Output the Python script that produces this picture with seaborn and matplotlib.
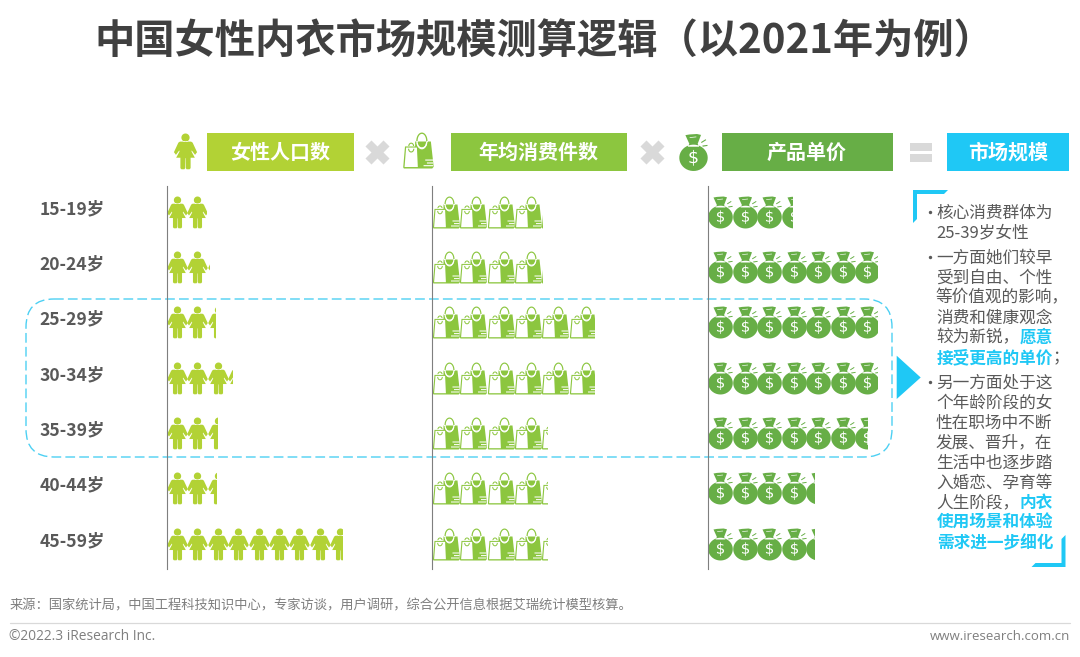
import numpy as np
import pandas as pd
import seaborn as sns
import matplotlib.pyplot as plt
from matplotlib.path import Path
from matplotlib.patches import Rectangle, Polygon, FancyBboxPatch
from matplotlib.textpath import TextPath
from matplotlib.font_manager import FontProperties

# data, in "number of icons"
ages = ['15-19岁', '20-24岁', '25-29岁', '30-34岁', '35-39岁', '40-44岁', '45-59岁']
women = [1.95, 2.07, 2.35, 3.2, 2.45, 2.4, 8.58]
pieces = [4.02, 4.02, 5.93, 5.93, 4.2, 4.2, 4.2]
price = [3.43, 6.88, 6.88, 6.88, 6.47, 4.32, 4.32]
headers = ['女性人口数', '年均消费件数', '产品单价', '市场规模']

C_WOMEN = '#B2D235'
C_BAG = '#8CC63F'
C_MONEY = '#67AE46'
C_BLUE = '#1FC8F5'
C_TEXT = '#595959'
C_X = '#D9D9D9'

W, H = 1080, 657
sns.set_theme(style='white')
plt.rcParams['font.family'] = ['Noto Sans CJK SC', 'DejaVu Sans']


# every icon is drawn in a -16..16 box, the extra point keeps all layers at one scale
def finish(*parts):
    box = Path([(16, 16), (16, 16)], [Path.MOVETO, Path.LINETO])
    return Path.make_compound_path(*parts, box)


def poly(pts):
    pts = list(pts) + [pts[0]]
    return Path(pts, [Path.MOVETO] + [Path.LINETO] * (len(pts) - 2) + [Path.CLOSEPOLY])


def blob(cx, cy, rx, ry):
    t = np.linspace(0, 2 * np.pi, 40)[:-1]
    return poly(list(zip(cx + rx * np.cos(t), cy + ry * np.sin(t))))


def ring(cx, cy, rx, ry, w, t0=0, t1=360):
    t = np.radians(np.linspace(t0, t1, 30))
    outer = list(zip(cx + rx * np.cos(t), cy + ry * np.sin(t)))
    inner = list(zip(cx + (rx - w) * np.cos(t), cy + (ry - w) * np.sin(t)))
    return poly(outer + inner[::-1])


person = finish(
    blob(0, 12.5, 3.7, 3.7),
    poly([(-5, 8.9), (5, 8.9), (6.4, 8), (10.4, -0.6), (8.6, -3), (5.6, 1), (5.4, 0),
          (8.4, -5.6), (4.6, -5.6), (4.6, -15), (3.6, -16), (1, -16), (0.3, -15), (0.2, -6),
          (-0.2, -6), (-0.3, -15), (-1, -16), (-3.6, -16), (-4.6, -15), (-4.6, -5.6), (-8.4, -5.6),
          (-5.4, 0), (-5.6, 1), (-8.6, -3), (-10.4, -0.6), (-6.4, 8)]),
)

bag_back = finish(
    poly([(-3, 8), (11, 8), (13.5, -14.5), (12.2, -16), (-13, -16), (-13.6, -15), (-12, 3.6),
          (-3, 3.6)]),
    ring(3, 8.5, 5, 7.5, 1.2),
    ring(-6.5, 4, 2.6, 3, 1, 0, 180),
)
bag_front = finish(
    poly([(-11, 2.6), (-1.4, 2.6), (-0.6, -14.7), (-12.4, -14.7)]),
    poly([(6, -8), (13, -8), (13, -9), (6, -9)]),
    poly([(7.5, -10.6), (13, -10.6), (13, -11.6), (7.5, -11.6)]),
    poly([(4.5, -13), (13, -13), (13, -14), (4.5, -14)]),
    ring(3, 6.5, 4.6, 4.6, 1, 180, 360),
)
bag_top = finish(
    ring(-6.5, 1.6, 2.8, 3.4, 1, 180, 360),
)

money_bag = finish(
    blob(0, -4.6, 12.3, 11.4),
    poly([(-7, 15), (-3.5, 15.6), (3, 16), (6.5, 15.2), (3.6, 7.5), (5, 5), (-5, 5), (-3.6, 7.5)]),
    poly([(6.5, 9), (10.5, 11.5), (11, 10.7), (7, 8.2)]),
    poly([(7.6, 6), (12, 6.6), (12.2, 5.7), (8, 5)]),
)
text_path = TextPath((0, 0), '$', size=15, prop=FontProperties(family='DejaVu Sans'))
ext = text_path.get_extents()
dollar = finish(Path(text_path.vertices - [(ext.x0 + ext.x1) / 2, (ext.y0 + ext.y1) / 2 + 4.6],
                     text_path.codes))
money_tie = finish(poly([(-3.4, 13.2), (2.4, 13.8), (2.5, 13.2), (-3.2, 12.6)]))

women_layers = [(person, C_WOMEN)]
bag_layers = [(bag_back, C_BAG), (bag_front, 'white'), (bag_top, C_BAG)]
money_layers = [(money_bag, C_MONEY), (money_tie, 'white'), (dollar, 'white')]

fig = plt.figure(figsize=(W / 100, H / 100), dpi=100, facecolor='white')

# page layer, in pixels of the picture
page = fig.add_axes([0, 0, 1, 1])
page.set_xlim(0, W)
page.set_ylim(H, 0)
page.axis('off')

page.text(544, 41, '中国女性内衣市场规模测算逻辑（以2021年为例）', fontsize=29, fontweight='bold',
          color='#404040', ha='center', va='center')

header_boxes = [(207, 354, C_WOMEN), (450.5, 627, C_BAG), (721.5, 892.5, C_MONEY), (946.5, 1069, C_BLUE)]
for name, (x0, x1, col) in zip(headers, header_boxes):
    page.add_patch(Rectangle((x0, 132.5), x1 - x0, 38.5, color=col, lw=0))
    page.text((x0 + x1) / 2, 152.5, name, fontsize=14.4, fontweight='bold', color='white',
              ha='center', va='center')

for layers, hx, hy, h_px in [(women_layers, 185, 151, 36), (bag_layers, 418, 150, 36), (money_layers, 693, 151.5, 37)]:
    for mark, col in layers:
        page.scatter([hx], [hy], marker=mark, s=(h_px * 0.72) ** 2, color=col, linewidths=0)

page.scatter([377, 652], [152, 152], marker='X', s=300, color=C_X, linewidths=0)
page.add_patch(Rectangle((910, 143), 22, 8, color=C_X, lw=0))
page.add_patch(Rectangle((910, 154), 22, 8, color=C_X, lw=0))

# dashed frame around the core age groups
page.add_patch(FancyBboxPatch((26, 299), 866, 158, boxstyle='round,pad=0,rounding_size=28', fc='none',
                              ec='#4DD0F3', lw=1.0, ls=(0, (7, 3)), zorder=5))
page.add_patch(Polygon([(896.7, 355.7), (920.7, 377.5), (896.7, 399)], color=C_BLUE, lw=0))

# corner brackets of the note
page.add_patch(Polygon([(913, 190), (948, 190), (944, 194), (917, 194), (917, 219), (913, 223)],
                       color=C_BLUE, lw=0))
page.add_patch(Polygon([(1065.5, 567), (1031.5, 567), (1035.5, 563), (1061.5, 563), (1061.5, 539), (1065.5, 535)],
                       color=C_BLUE, lw=0))

note = [
    (213, '核心消费群体为'), (233, '25-39岁女性'),
    (258, '一方面她们较早'), (278, '受到自由、个性'), (298, '等价值观的影响，'), (318, '消费和健康观念'),
    (338, '较为新锐，'),
    (383, '另一方面处于这'), (403, '个年龄阶段的女'), (423, '性在职场中不断'), (443, '发展、晋升，在'),
    (463, '生活中也逐步踏'), (483, '入婚恋、孕育等'), (503, '人生阶段，'),
]
for y, line in note:
    page.text(936, y, line, fontsize=12, color=C_TEXT, ha='left', va='center')
for x, y, line in [(1053, 338, '愿意'), (1053, 358, '接受更高的单价'), (1053, 503, '内衣'),
                   (1053, 523, '使用场景和体验'), (1053, 543, '需求进一步细化')]:
    page.text(x, y, line, fontsize=12, fontweight='bold', color=C_BLUE, ha='right', va='center')
page.text(1053, 358, '；', fontsize=12, color=C_TEXT, ha='left', va='center')
page.scatter([929.5, 929.5, 929.5], [212, 257, 382], s=6, color=C_TEXT, linewidths=0)

page.text(10, 605, '来源：国家统计局，中国工程科技知识中心，专家访谈，用户调研，综合公开信息根据艾瑞统计模型核算。',
          fontsize=9.55, color='#7F7F7F', ha='left', va='center')
page.plot([10, 1070], [623, 623], color='#D9D9D9', lw=0.9)
page.text(9, 637, '©2022.3 iResearch Inc.', fontsize=9.9, family='Open Sans', color='#7F7F7F', ha='left', va='center')
page.text(1070, 637, 'www.iresearch.com.cn', fontsize=9.5, family='Open Sans', color='#7F7F7F', ha='right', va='center')

# icon panels: x counts icons, y counts age groups
ROW0, ROW_STEP = 211.7, 55.35
TOP, BOTTOM = 186, 569


def icon_panel(left, pitch, values, layers, n_slots, labels=False):
    ax = fig.add_axes([left / W, 1 - BOTTOM / H, n_slots * pitch / W, (BOTTOM - TOP) / H])
    ax.patch.set_visible(False)
    for row, value in enumerate(values):
        slots = np.arange(int(np.ceil(value)))
        df = pd.DataFrame({'icon': slots + 0.5, 'row': row})
        clip = Rectangle((0, row - 0.5), value, 1, transform=ax.transData)
        for mark, col in layers:
            sns.scatterplot(data=df, x='icon', y='row', marker=mark, s=(32 * 0.72) ** 2, color=col,
                            linewidth=0, legend=False, ax=ax)
            ax.collections[-1].set_clip_path(clip)
    ax.set_xlim(0, n_slots)
    ax.set_ylim((BOTTOM - ROW0) / ROW_STEP, (TOP - ROW0) / ROW_STEP)
    ax.set_xlabel('')
    ax.set_ylabel('')
    ax.set_xticks([])
    ax.set_yticks([])
    sns.despine(ax=ax, top=True, right=True, bottom=True)
    ax.spines['left'].set_color('#7F7F7F')
    ax.spines['left'].set_linewidth(0.8)
    if labels:
        for row, age in enumerate(ages):
            ax.annotate(age, xy=(0, row), xytext=(-91.5, 1.9), textcoords='offset points', fontsize=12.6,
                        fontweight='bold', color=C_TEXT, ha='left', va='center', annotation_clip=False)
    return ax


icon_panel(166.7, 20.4, women, women_layers, 10, labels=True)
icon_panel(432, 27.4, pieces, bag_layers, 7)
icon_panel(708, 24.5, price, money_layers, 8)

fig.savefig('out.png', dpi=100)
